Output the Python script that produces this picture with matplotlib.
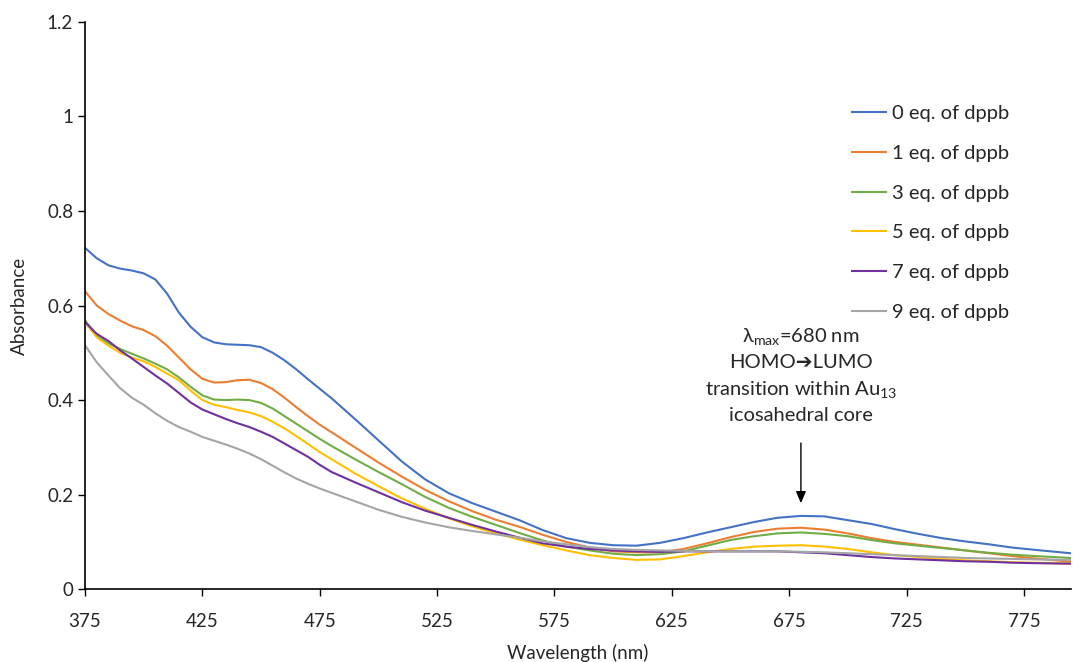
import matplotlib
matplotlib.use("Agg")
import matplotlib.pyplot as plt

plt.rcParams['font.family'] = ['Lato', 'DejaVu Sans']
plt.rcParams['mathtext.fontset'] = 'custom'
plt.rcParams['mathtext.rm'] = 'Lato'
plt.rcParams['mathtext.it'] = 'Lato:italic'
plt.rcParams['mathtext.bf'] = 'Lato:bold'

wavelength = [375, 380, 385, 390, 395, 400, 405, 410, 415, 420, 425, 430, 435, 440, 445,
              450, 455, 460, 465, 470, 475, 480, 490, 500, 510, 520, 530, 540, 550, 560,
              570, 580, 590, 600, 610, 620, 630, 640, 650, 660, 670, 680, 690, 700, 710,
              720, 730, 740, 750, 760, 770, 780, 795]

eq0 = [0.722, 0.700, 0.685, 0.678, 0.674, 0.668, 0.655, 0.625, 0.585, 0.555, 0.533, 0.522,
       0.518, 0.517, 0.516, 0.512, 0.500, 0.484, 0.465, 0.444, 0.424, 0.404, 0.360, 0.315,
       0.270, 0.232, 0.203, 0.182, 0.164, 0.146, 0.125, 0.108, 0.098, 0.093, 0.092, 0.098,
       0.108, 0.120, 0.131, 0.142, 0.151, 0.155, 0.154, 0.146, 0.138, 0.127, 0.117, 0.108,
       0.101, 0.095, 0.088, 0.083, 0.076]
eq1 = [0.630, 0.600, 0.582, 0.568, 0.556, 0.548, 0.535, 0.515, 0.490, 0.465, 0.445, 0.437,
       0.438, 0.442, 0.443, 0.436, 0.423, 0.405, 0.385, 0.366, 0.348, 0.332, 0.300, 0.268,
       0.238, 0.210, 0.186, 0.165, 0.147, 0.132, 0.115, 0.100, 0.088, 0.080, 0.078, 0.078,
       0.085, 0.097, 0.110, 0.121, 0.128, 0.130, 0.126, 0.118, 0.108, 0.100, 0.094, 0.088,
       0.082, 0.076, 0.070, 0.065, 0.058]
eq3 = [0.569, 0.535, 0.520, 0.508, 0.498, 0.488, 0.477, 0.465, 0.448, 0.428, 0.410, 0.401,
       0.400, 0.401, 0.400, 0.394, 0.382, 0.366, 0.350, 0.334, 0.318, 0.303, 0.275, 0.248,
       0.222, 0.195, 0.172, 0.153, 0.136, 0.119, 0.103, 0.090, 0.082, 0.075, 0.072, 0.074,
       0.080, 0.092, 0.104, 0.112, 0.118, 0.120, 0.117, 0.112, 0.104, 0.097, 0.092, 0.087,
       0.082, 0.077, 0.073, 0.070, 0.066]
eq5 = [0.565, 0.533, 0.515, 0.500, 0.490, 0.482, 0.470, 0.456, 0.442, 0.420, 0.400, 0.390,
       0.385, 0.379, 0.374, 0.366, 0.354, 0.340, 0.324, 0.307, 0.290, 0.275, 0.245, 0.218,
       0.192, 0.170, 0.150, 0.133, 0.118, 0.105, 0.093, 0.082, 0.072, 0.066, 0.062, 0.063,
       0.070, 0.078, 0.085, 0.090, 0.092, 0.093, 0.090, 0.085, 0.078, 0.072, 0.068, 0.064,
       0.061, 0.059, 0.057, 0.056, 0.054]
eq7 = [0.565, 0.540, 0.525, 0.505, 0.488, 0.470, 0.452, 0.435, 0.415, 0.395, 0.380, 0.370,
       0.360, 0.351, 0.343, 0.333, 0.322, 0.308, 0.294, 0.280, 0.263, 0.248, 0.226, 0.205,
       0.184, 0.166, 0.151, 0.136, 0.122, 0.109, 0.097, 0.090, 0.085, 0.082, 0.080, 0.079,
       0.080, 0.080, 0.080, 0.080, 0.080, 0.078, 0.076, 0.072, 0.068, 0.065, 0.063, 0.061,
       0.059, 0.058, 0.056, 0.055, 0.054]
eq9 = [0.516, 0.480, 0.452, 0.425, 0.405, 0.390, 0.372, 0.356, 0.343, 0.333, 0.322, 0.314,
       0.306, 0.297, 0.287, 0.275, 0.261, 0.247, 0.234, 0.223, 0.213, 0.204, 0.186, 0.168,
       0.153, 0.141, 0.131, 0.123, 0.116, 0.109, 0.101, 0.095, 0.089, 0.085, 0.083, 0.082,
       0.081, 0.080, 0.080, 0.080, 0.080, 0.079, 0.078, 0.076, 0.074, 0.072, 0.070, 0.068,
       0.066, 0.065, 0.064, 0.063, 0.062]

series = [eq0, eq1, eq3, eq5, eq7, eq9]
labels = ["0 eq. of dppb", "1 eq. of dppb", "3 eq. of dppb",
          "5 eq. of dppb", "7 eq. of dppb", "9 eq. of dppb"]
colors = ["#4472C4", "#ED7D31", "#70AD47", "#FFC000", "#7030A0", "#A5A5A5"]

x_ticks = [375, 425, 475, 525, 575, 625, 675, 725, 775]
y_ticks = [0, 0.2, 0.4, 0.6, 0.8, 1.0, 1.2]
y_tick_labels = ["0", "0.2", "0.4", "0.6", "0.8", "1", "1.2"]

fig = plt.figure(figsize=(10.73, 6.62), dpi=100)
ax = fig.add_axes([0.0792, 0.110, 0.9188, 0.857])

for vals, lab, col in zip(series, labels, colors):
    ax.plot(wavelength, vals, color=col, lw=1.5, label=lab)

ax.set_xlim(375, 795)
ax.set_ylim(0, 1.2)
ax.set_xticks(x_ticks)
ax.set_yticks(y_ticks)
ax.set_yticklabels(y_tick_labels)
ax.tick_params(axis='both', labelsize=13.5, length=5, width=1, color='black',
               labelcolor='#262626', direction='out')
ax.tick_params(axis='x', pad=12)
for s in ['top', 'right']:
    ax.spines[s].set_visible(False)
for s in ['left', 'bottom']:
    ax.spines[s].set_linewidth(1.2)
    ax.spines[s].set_color('black')

ax.set_xlabel("Wavelength (nm)", fontsize=13.5, color='#262626', labelpad=10)
ax.set_ylabel("Absorbance", fontsize=13.5, color='#262626', labelpad=14)

leg = ax.legend(loc='upper left', bbox_to_anchor=(0.760, 0.885), frameon=False,
                fontsize=14.5, handlelength=1.65, handletextpad=0.3, labelspacing=1.12,
                labelcolor='#262626')

fs = 14.5
ax.text(680, 0.535, r"λ$_{\mathrm{max}}$=680 nm", ha='center', va='center', fontsize=fs,
        color='#262626')
ax.text(680, 0.480, "HOMO\u2794LUMO", ha='center', va='center', fontsize=fs,
        color='#262626', family=['Lato', 'DejaVu Sans'])
ax.text(680, 0.423, r"transition within Au$_{\mathrm{13}}$", ha='center', va='center',
        fontsize=fs, color='#262626')
ax.text(680, 0.368, "icosahedral core", ha='center', va='center', fontsize=fs,
        color='#262626')
ax.annotate("", xy=(680, 0.176), xytext=(680, 0.315),
            arrowprops=dict(arrowstyle='-|>,head_width=0.3,head_length=0.7',
                            color='black', lw=1))

fig.savefig("out.png", dpi=100)
